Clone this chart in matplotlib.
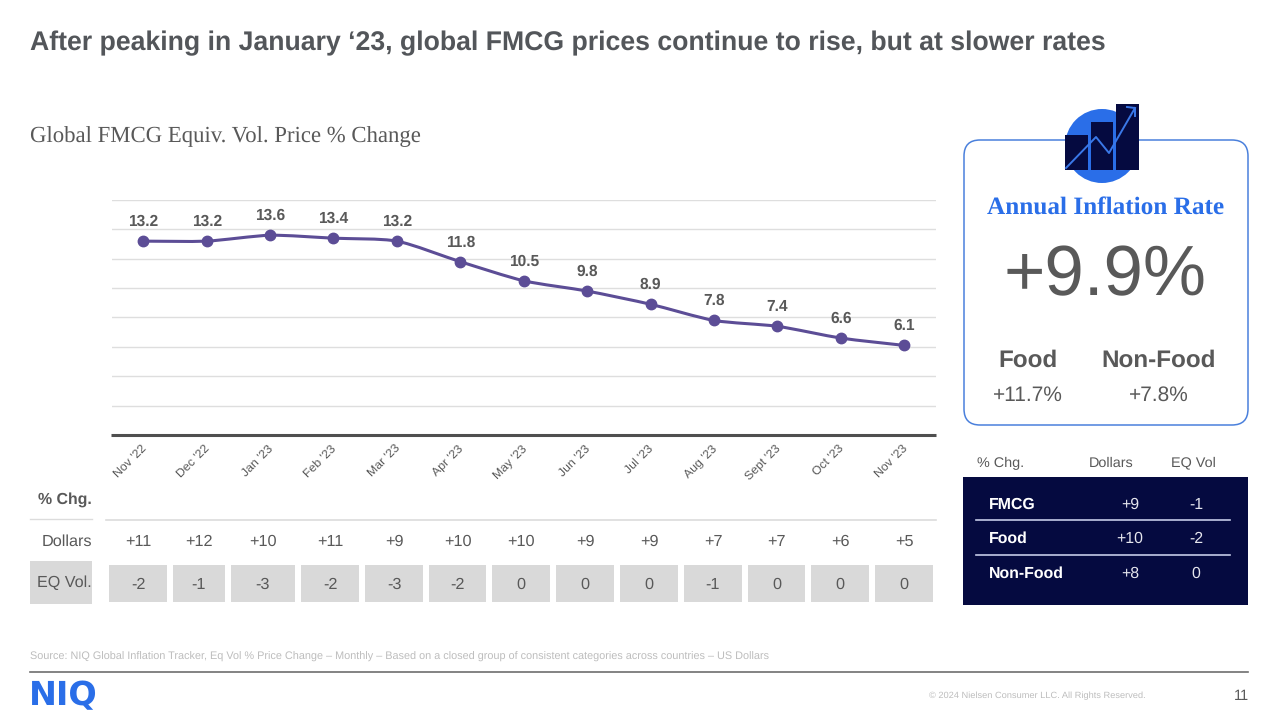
import matplotlib
matplotlib.use('Agg')
import matplotlib.pyplot as plt
from matplotlib.patches import Circle, FancyBboxPatch, PathPatch, Rectangle
from matplotlib.path import Path
from matplotlib.transforms import ScaledTranslation

months = ["Nov '22", "Dec '22", "Jan '23", "Feb '23", "Mar '23", "Apr '23", "May '23",
          "Jun '23", "Jul '23", "Aug '23", "Sept '23", "Oct '23", "Nov '23"]
price_change = [13.2, 13.2, 13.6, 13.4, 13.2, 11.8, 10.5, 9.8, 8.9, 7.8, 7.4, 6.6, 6.1]
dollars = ['+11', '+12', '+10', '+11', '+9', '+10', '+10', '+9', '+9', '+7', '+7', '+6', '+5']
eq_vol = ['-2', '-1', '-3', '-2', '-3', '-2', '0', '0', '0', '-1', '0', '0', '0']

summary_rows = ['FMCG', 'Food', 'Non-Food']
summary_dollars = ['+9', '+10', '+8']
summary_vol = ['-1', '-2', '0']

DARK = '#53565a'
GREY = '#595959'
BLUE = '#2a6ee8'
NAVY = '#050a40'
PURPLE = '#5c4d96'
SANS = 'Liberation Sans'
SERIF = 'Liberation Serif'

plt.rcParams['text.hinting'] = 'no_hinting'
plt.rcParams['text.hinting_factor'] = 8


def smooth_path(xs, ys, k=0.12):
    # Bezier through the points, tangents taken from the neighbours
    verts = [(xs[0], ys[0])]
    codes = [Path.MOVETO]
    n = len(xs)
    for i in range(n - 1):
        x0, y0 = xs[max(i - 1, 0)], ys[max(i - 1, 0)]
        x3, y3 = xs[min(i + 2, n - 1)], ys[min(i + 2, n - 1)]
        verts += [(xs[i] + (xs[i + 1] - x0) * k, ys[i] + (ys[i + 1] - y0) * k),
                  (xs[i + 1] - (x3 - xs[i]) * k, ys[i + 1] - (y3 - ys[i]) * k),
                  (xs[i + 1], ys[i + 1])]
        codes += [Path.CURVE4] * 3
    return Path(verts, codes)


fig = plt.figure(figsize=(12.8, 7.2), dpi=100)

# full-slide layer in pixel coordinates for text and panels
bg = fig.add_axes([0, 0, 1, 1])
bg.set_xlim(0, 1280)
bg.set_ylim(720, 0)
bg.axis('off')

bg.text(30, 43, "After peaking in January \u201823, global FMCG prices continue to rise, but at slower rates",
        fontsize=19.2, fontweight='bold', family=SANS, color=DARK, va='center')
bg.text(30, 137, 'Global FMCG Equiv. Vol. Price % Change', fontsize=16.4, family=SERIF, color=GREY, va='center')

# line chart
ax = fig.add_axes([111.5 / 1280, 1 - 435 / 720, 824.5 / 1280, 235 / 720])
ax.set_xlim(-0.5, 12.5)
ax.set_ylim(0, 16)
ax.set_yticks(range(0, 17, 2))
ax.tick_params(left=False, bottom=False, labelleft=False, pad=2)
ax.grid(axis='y', color='#dedede', lw=1)
ax.set_axisbelow(True)
for side in ['left', 'right', 'top']:
    ax.spines[side].set_visible(False)
ax.spines['bottom'].set_color('#4f4f4f')
ax.spines['bottom'].set_linewidth(2.2)
ax.spines['bottom'].set_capstyle('butt')
ax.set_xticks(range(len(months)))
ax.set_xticklabels(months, rotation=45, ha='right', rotation_mode='anchor',
                   fontsize=8.8, family=SANS, color=GREY)
shift = ScaledTranslation(-2 / 72, 0, fig.dpi_scale_trans)
for lab in ax.get_xticklabels():
    lab.set_transform(lab.get_transform() + shift)

xs = list(range(len(price_change)))
ax.add_patch(PathPatch(smooth_path(xs, price_change), fill=False, ec=PURPLE, lw=2.2))
ax.plot(xs, price_change, 'o', color=PURPLE, ms=7.5, ls='none')
for x, v in zip(xs, price_change):
    ax.annotate(f'{v}', (x, v), xytext=(0, 14), textcoords='offset points', ha='center', va='center',
                fontsize=11.2, fontweight='bold', family=SANS, color=GREY)

# table under the chart
cell_edges = [(109, 167), (173, 225), (231, 295), (301, 359), (365, 423), (429, 486), (492, 550),
              (556, 614), (620, 678), (684, 742), (748, 805), (811, 869), (875, 933)]
bg.text(92, 500, '% Chg.', fontsize=11.4, fontweight='bold', family=SANS, color=GREY, ha='right', va='center')
bg.plot([30, 92], [519, 519], color='#dcdcdc', lw=1)
bg.plot([106, 936], [519.5, 519.5], color='#dcdcdc', lw=1.2)
bg.text(92, 541.5, 'Dollars', fontsize=11.7, family=SANS, color=GREY, ha='right', va='center')
bg.add_patch(Rectangle((30, 561), 62, 43, fc='#d9d9d9', ec='none'))
bg.text(92, 583, 'EQ Vol.', fontsize=11.6, family=SANS, color=GREY, ha='right', va='center')
for (x0, x1), d, e in zip(cell_edges, dollars, eq_vol):
    mid = (x0 + x1) / 2
    bg.text(mid, 542, d, fontsize=11.7, family=SANS, color=GREY, ha='center', va='center')
    bg.add_patch(Rectangle((x0, 565), x1 - x0, 37, fc='#d9d9d9', ec='none'))
    bg.text(mid, 584.5, e, fontsize=11.7, family=SANS, color=GREY, ha='center', va='center')

# inflation card
bg.add_patch(FancyBboxPatch((964, 140), 284, 285, boxstyle='round,pad=0,rounding_size=16',
                            fc='white', ec='#4a80dc', lw=1.1))
bg.add_patch(Circle((1102, 146), 37, fc=BLUE, ec='none', zorder=3))
for x0, x1, top in [(1065, 1088, 135), (1091, 1113, 122), (1116, 1139, 104)]:
    bg.add_patch(Rectangle((x0, top), x1 - x0, 170 - top, fc=NAVY, ec='none', zorder=4))
bg.plot([1066, 1096, 1109, 1135], [168, 137, 153, 108], color='#3a78e8', lw=1.4, zorder=5)
bg.plot([1127, 1135, 1135], [107, 108, 116], color='#3a78e8', lw=1.4, zorder=5)
bg.text(1106, 208, 'Annual Inflation Rate', fontsize=18.2, fontweight='bold', family=SERIF, color=BLUE,
        ha='center', va='center')
bg.text(1105, 277, '+9.9%', fontsize=51, family=SANS, color=GREY, ha='center', va='center')
bg.text(1028, 361, 'Food', fontsize=17.5, fontweight='bold', family=SANS, color=GREY, ha='center', va='center')
bg.text(1159, 361, 'Non-Food', fontsize=17.5, fontweight='bold', family=SANS, color=GREY, ha='center', va='center')
bg.text(1028, 395, '+11.7%', fontsize=15, family=SANS, color=GREY, ha='center', va='center')
bg.text(1159, 395, '+7.8%', fontsize=15, family=SANS, color=GREY, ha='center', va='center')

# summary table
bg.text(977, 463, '% Chg.', fontsize=10.4, family=SANS, color=GREY, va='center')
bg.text(1111, 463, 'Dollars', fontsize=10.4, family=SANS, color=GREY, ha='center', va='center')
bg.text(1193, 463, 'EQ Vol', fontsize=10.4, family=SANS, color=GREY, ha='center', va='center')
bg.add_patch(Rectangle((963, 477), 285, 128, fc=NAVY, ec='none'))
for y, name, d, e in zip([505, 539, 574], summary_rows, summary_dollars, summary_vol):
    bg.text(989, y, name, fontsize=11.4, fontweight='bold', family=SANS, color='white', va='center')
    bg.text(1130, y, d, fontsize=11.4, family=SANS, color='#e6e6ee', ha='center', va='center')
    bg.text(1196, y, e, fontsize=11.4, family=SANS, color='#e6e6ee', ha='center', va='center')
for y in [520, 555]:
    bg.plot([976, 1230], [y, y], color='#c5cbe8', lw=1.2)

# footer
bg.text(30, 657, 'Source: NIQ Global Inflation Tracker, Eq Vol % Price Change \u2013 Monthly \u2013 Based on a closed '
        'group of consistent categories across countries \u2013 US Dollars',
        fontsize=7.8, family=SANS, color='#bdbdbd', va='center')
bg.plot([30, 1248], [671.5, 671.5], color='#6e6e6e', lw=1.2)
bg.text(29, 696, 'NIQ', fontsize=24, fontweight='bold', family='DejaVu Sans', color=BLUE, va='center')
bg.text(1146, 695.5, '\u00a9 2024 Nielsen Consumer LLC. All Rights Reserved.', fontsize=6.7, family=SANS,
        color='#bdbdbd', ha='right', va='center')
bg.text(1249, 696, '11', fontsize=10.5, family=SANS, color=GREY, ha='right', va='center')

fig.savefig('out.png', dpi=100)
